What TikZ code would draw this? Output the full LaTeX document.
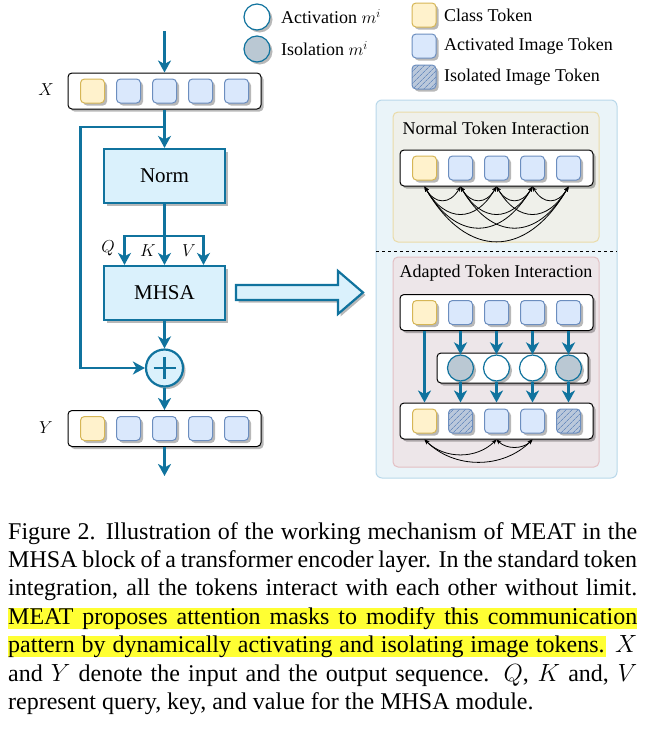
\documentclass[tikz,border=0pt]{standalone}
\usepackage{fontspec}
\setmainfont{Liberation Serif}
\usetikzlibrary{positioning,shadows,patterns.meta,arrows.meta,calc}

\definecolor{mblue}{HTML}{10739E}
\definecolor{blockfill}{HTML}{DAF1FC}
\definecolor{clsfill}{HTML}{FFF2CC}
\definecolor{clsline}{HTML}{D6B656}
\definecolor{imgfill}{HTML}{DAE8FC}
\definecolor{imgline}{HTML}{6C8EBF}
\definecolor{isofill}{HTML}{BAC8DB}
\definecolor{maskfill}{HTML}{BAC8D3}
\definecolor{outerfill}{HTML}{EAF4F9}
\definecolor{outerline}{HTML}{B9D8EA}
\definecolor{normfill}{HTML}{EFF0EA}
\definecolor{normline}{HTML}{EADBA8}
\definecolor{adaptfill}{HTML}{EDE6E9}
\definecolor{adaptline}{HTML}{E3BFC3}
\definecolor{marker}{HTML}{FFFF33}

\tikzset{
  shade/.style={drop shadow={shadow xshift=2.5pt, shadow yshift=-2.5pt, fill=black, opacity=0.28}},
  seq/.style={draw=black, fill=white, line width=1pt, rounded corners=4pt, minimum width=193pt, minimum height=36pt, inner sep=0pt, shade},
  tok/.style={line width=1pt, rounded corners=4pt, minimum size=24pt, inner sep=0pt, shade},
  cls/.style={tok, draw=clsline, fill=clsfill},
  img/.style={tok, draw=imgline, fill=imgfill},
  iso/.style={tok, draw=imgline, preaction={fill=isofill}, pattern={Lines[angle=45, distance=4pt, line width=0.7pt]}, pattern color=imgline},
  act/.style={circle, draw=mblue, fill=white, line width=1.2pt, minimum size=26pt, inner sep=0pt, shade},
  isol/.style={act, fill=maskfill},
  block/.style={draw=mblue, fill=blockfill, line width=2.2pt, minimum width=121pt, minimum height=54pt, shade, font=\fontsize{21}{25}\selectfont},
  flow/.style={draw=mblue, line width=2.2pt, -{Stealth[length=12pt, width=13pt, inset=3.5pt]}},
  link/.style={black, line width=0.8pt, {Stealth[length=5pt, width=4pt]}-{Stealth[length=5pt, width=4pt]}},
  lbl/.style={font=\fontsize{18}{22}\selectfont, inner sep=0pt},
}

\begin{document}
\begin{tikzpicture}[x=1pt, y=-1pt]
  \useasboundingbox (0,0) rectangle (645,734);

  % legend
  \node[act] (lact) at (257,17) {};
  \node[lbl, anchor=west] (tact) at (281,17) {Activation $m^i$};
  \node[isol] (liso) at (257,49) {};
  \node[lbl, anchor=west] (tiso) at (281,49) {Isolation $m^i$};
  \node[cls] (lcls) at (424,15) {};
  \node[lbl, anchor=west] (tcls) at (444,15) {Class Token};
  \node[img] (limg) at (424,46) {};
  \node[lbl, anchor=west] (timg) at (444,46) {Activated Image Token};
  \node[iso] (lisotok) at (424,77) {};
  \node[lbl, anchor=west] (tisotok) at (444,77) {Isolated Image Token};

  % encoder layer
  \coordinate (in) at (164.5,31);
  \node[seq] (xrow) at (164.5,91) {};
  \node[cls] (x1) at ($(xrow)+(-72,0)$) {};
  \foreach \k in {2,...,5}
    \node[img] (x\k) at ($(xrow)+({36*(\k-3)},0)$) {};
  \node[lbl] (xlab) at (46,90) {$X$};

  \node[block] (norm) at (164.5,176) {Norm};
  \node[block] (mhsa) at (164.5,293) {MHSA};
  \node[circle, draw=mblue, fill=blockfill, line width=2.2pt, minimum size=37pt, shade] (plus) at (164.5,368) {};
  \draw[mblue, line width=2.4pt] ([xshift=-11pt]plus.center) -- ([xshift=11pt]plus.center);
  \draw[mblue, line width=2.4pt] ([yshift=-11pt]plus.center) -- ([yshift=11pt]plus.center);

  \node[seq] (yrow) at (164.5,428.5) {};
  \node[cls] (y1) at ($(yrow)+(-72,0)$) {};
  \foreach \k in {2,...,5}
    \node[img] (y\k) at ($(yrow)+({36*(\k-3)},0)$) {};
  \node[lbl] (ylab) at (46,428) {$Y$};
  \coordinate (out) at (164.5,476);

  \coordinate (split) at (164.5,127);
  \coordinate (qkv) at (164.5,236);
  \draw[flow] (in) -- (xrow);
  \draw[flow] (xrow) -- (norm);
  \draw[flow] (split) -- ++(-84,0) |- (plus);
  \draw[flow] (norm) -- (mhsa);
  \draw[flow] (qkv) -| ([xshift=-40pt]mhsa.north);
  \draw[flow] (qkv) -| ([xshift=39pt]mhsa.north);
  \draw[flow] (mhsa) -- (plus);
  \draw[flow] (plus) -- (yrow);
  \draw[flow] (yrow) -- (out);
  \node[lbl] (qlab) at (108,248) {$Q$};
  \node[lbl] (klab) at (148,251) {$K$};
  \node[lbl] (vlab) at (189,251) {$V$};

  % hollow arrow
  \draw[mblue, line width=2.2pt, fill=blockfill, shade, line join=miter]
    (236,285) -- (338,285) -- (338,271) -- (363,292.5) -- (338,314) -- (338,300) -- (236,300) -- cycle;

  % panels
  \draw[outerline, fill=outerfill, line width=1pt, rounded corners=6pt] (376,100) rectangle (617,478);
  \draw[normline, fill=normfill, line width=1pt, rounded corners=5pt] (393,112) rectangle (599,242);
  \draw[adaptline, fill=adaptfill, line width=1pt, rounded corners=5pt] (393,257) rectangle (599,467);
  \draw[black, line width=0.8pt, dashed] (376,251) -- (617,251);
  \node[lbl] (ntitle) at (496,128) {Normal Token Interaction};
  \node[lbl] (atitle) at (496,273) {Adapted Token Interaction};

  % normal interaction
  \node[seq] (nrow) at (496.5,168) {};
  \node[cls] (n1) at ($(nrow)+(-72,0)$) {};
  \foreach \k in {2,...,5}
    \node[img] (n\k) at ($(nrow)+({36*(\k-3)},0)$) {};
  \foreach \i/\j in {1/2,1/3,1/4,1/5,2/3,2/4,2/5,3/4,3/5,4/5}
    \draw[link] (n\i |- nrow.south) to[bend right=60, looseness=1.5] (n\j |- nrow.south);

  % adapted interaction
  \node[seq] (arow) at (496.5,312.5) {};
  \node[cls] (a1) at ($(arow)+(-72,0)$) {};
  \foreach \k in {2,...,5}
    \node[img] (a\k) at ($(arow)+({36*(\k-3)},0)$) {};
  \node[seq, minimum width=151pt, minimum height=30pt] (mrow) at (512.5,368) {};
  \foreach \k/\s in {2/isol,3/act,4/act,5/isol}
    \node[\s] (m\k) at (a\k |- mrow) {};
  \node[seq] (brow) at (496.5,421) {};
  \node[cls] (b1) at ($(brow)+(-72,0)$) {};
  \foreach \k/\s in {2/iso,3/img,4/img,5/iso}
    \node[\s] (b\k) at ($(brow)+({36*(\k-3)},0)$) {};

  \draw[flow] (a1 |- arow.south) -- (b1 |- brow.north);
  \foreach \k in {2,...,5} {
    \draw[flow] (a\k |- arow.south) -- (m\k);
    \draw[flow] (m\k) -- (b\k |- brow.north);
  }
  \foreach \i/\j in {1/3,1/4,3/4}
    \draw[link] (b\i |- brow.south) to[bend right=45] (b\j |- brow.south);

  % caption
  \fill[marker] (8,607.5) rectangle (637,628.5);
  \fill[marker] (8,636) rectangle (606,657);
  \node[anchor=north west, text width=629pt, align=justify, inner sep=0pt,
        font=\fontsize{24}{28.4}\selectfont] (caption) at (8,522)
  {Figure 2. Illustration of the working mechanism of MEAT in the\linebreak
   MHSA block of a transformer encoder layer. In the standard token\linebreak
   integration, all the tokens interact with each other without limit.\linebreak
   MEAT proposes attention masks to modify this communication\linebreak
   pattern by dynamically activating and isolating image tokens. $X$\linebreak
   and $Y$ denote the input and the output sequence. $Q$, $K$ and, $V$\linebreak
   represent query, key, and value for the MHSA module.};
\end{tikzpicture}
\end{document}
